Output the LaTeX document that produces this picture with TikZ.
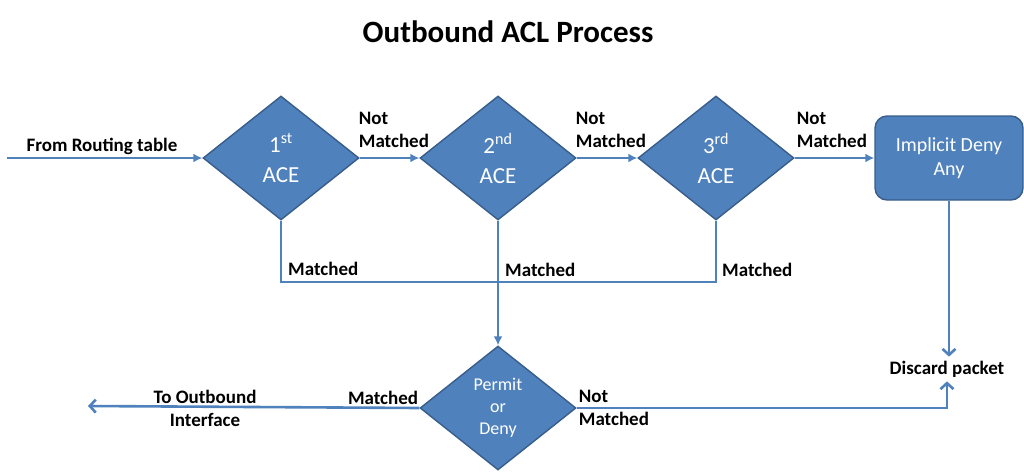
\documentclass[tikz,border=0pt]{standalone}
\usepackage{fontspec}
\setmainfont{Carlito}
\usetikzlibrary{shapes.geometric,positioning,arrows.meta}
\definecolor{aclblue}{HTML}{4F81BD}
\definecolor{acledge}{HTML}{385D8A}
\tikzset{
  ace/.style={diamond, draw=acledge, fill=aclblue, line width=1.4pt,
    minimum width=156pt, minimum height=124pt, inner sep=0pt,
    text=white, align=center, font=\fontsize{23}{30}\selectfont},
  denybox/.style={rectangle, rounded corners=12pt, draw=acledge, fill=aclblue,
    line width=1.4pt, minimum width=148pt, minimum height=84pt,
    text=white, align=center, font=\fontsize{20}{24}\selectfont},
  flow/.style={draw=aclblue, line width=2.6pt, -{Latex[length=9pt,width=9pt]}},
  barb/.style={draw=aclblue, line width=2.6pt, -{Straight Barb[length=6pt,width=13pt]}},
  link/.style={draw=aclblue, line width=2.6pt},
  lbl/.style={font=\bfseries\fontsize{19}{23}\selectfont, align=left, inner sep=0pt}
}
\begin{document}
\begin{tikzpicture}[x=1pt,y=-1pt]
  \useasboundingbox (0,0) rectangle (1024,472);
  \node[font=\bfseries\fontsize{31}{34}\selectfont] (title) at (508,32) {Outbound ACL Process};

  % decision chain
  \node[ace] (ace1) at (281,158) {1\textsuperscript{st}\\ACE};
  \node[ace] (ace2) at (498,158) {2\textsuperscript{nd}\\ACE};
  \node[ace] (ace3) at (716,158) {3\textsuperscript{rd}\\ACE};
  \node[denybox] (deny) at (949,158) {Implicit Deny\\Any};
  \node[ace, font=\fontsize{18}{22}\selectfont] (perm) at (498,408) {Permit\\or\\Deny};
  \node[lbl] (discard) at (947,369) {Discard packet};

  \coordinate (src) at (7,158);
  \coordinate (out) at (88,406);
  \coordinate (m1) at (281,282);
  \coordinate (m2) at (498,282);
  \coordinate (m3) at (716,282);

  \draw[flow] (src) -- (ace1.west);
  \draw[flow] (ace1.east) -- (ace2.west);
  \draw[flow] (ace2.east) -- (ace3.west);
  \draw[flow] (ace3.east) -- (deny.west);
  \draw[link] (ace1.south) -- (m1) -- (m3) -- (ace3.south);
  \draw[flow] (ace2.south) -- (perm.north);
  \draw[barb] (perm.west) -- (out);
  \draw[barb] (perm.east) -| ([yshift=-4pt]discard.south);
  \draw[barb] (deny.south) -- ([yshift=4pt]discard.north -| deny.south);

  % labels
  \node[lbl, anchor=south] at (102,155) {From Routing table};
  \node[lbl, above right=10pt and -1pt of ace1.east] (nm1) {Not\\Matched};
  \node[lbl, above right=10pt and -1pt of ace2.east] (nm2) {Not\\Matched};
  \node[lbl, above right=10pt and 2pt of ace3.east] (nm3) {Not\\Matched};
  \node[lbl, above right=6pt and 7pt of m1] (ma1) {Matched};
  \node[lbl, above right=5pt and 7pt of m2] (ma2) {Matched};
  \node[lbl, above right=5pt and 6pt of m3] (ma3) {Matched};
  \node[lbl, above left=3pt and 1pt of perm.west] (ma4) {Matched};
  \node[lbl, right=2pt of perm.east] (nm4) {Not\\Matched};
  \node[lbl, align=center] (iface) at (205,408) {To Outbound\\Interface};
\end{tikzpicture}
\end{document}
